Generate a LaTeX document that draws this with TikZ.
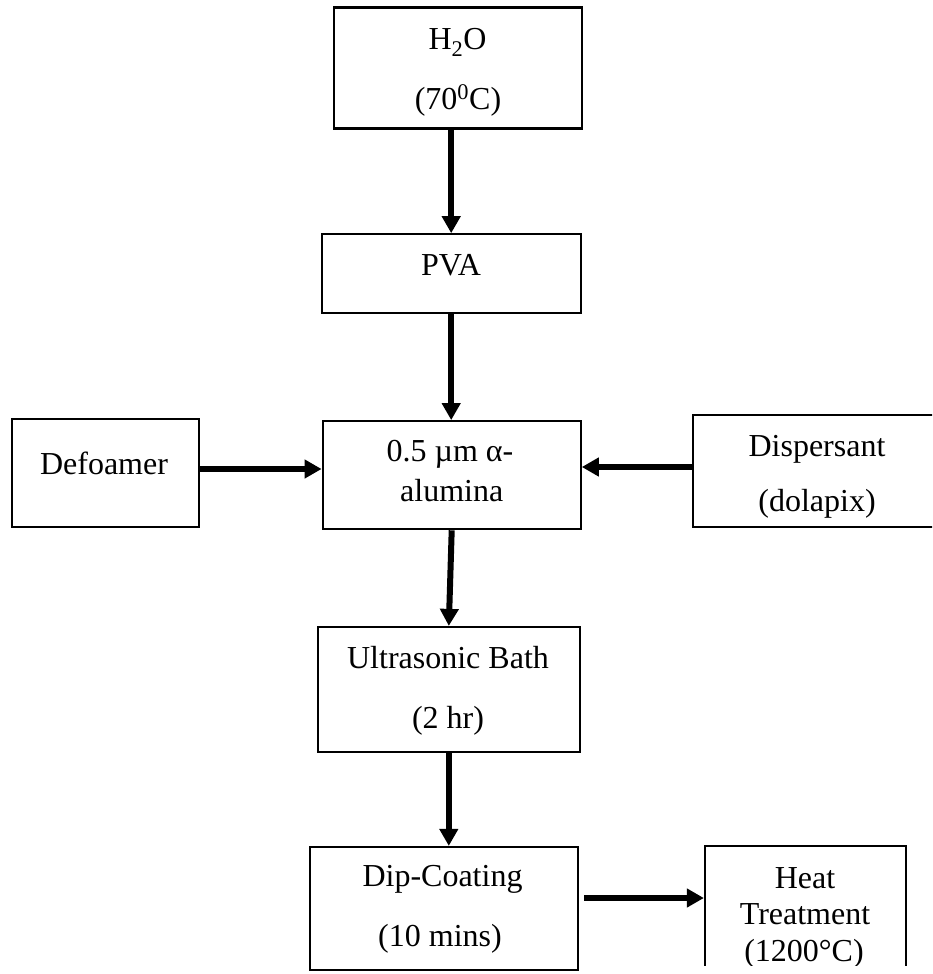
\documentclass[tikz,border=0pt]{standalone}
\usepackage{fontspec}
\setmainfont{Liberation Serif}
\usetikzlibrary{arrows.meta}

\begin{document}
\begin{tikzpicture}[x=1pt,y=-1pt,
  box/.style={draw=black,line width=2.2pt,rectangle,inner sep=0pt,fill=white},
  txt/.style={inner sep=0pt,anchor=base,font=\fontsize{32}{37}\selectfont},
  arr/.style={line width=6pt,-{Triangle[width=18pt,length=17pt]}}]

\clip (0,0) rectangle (932,974);
\fill[white] (0,0) rectangle (932,974);

% process boxes
\node[box,minimum width=248pt,minimum height=121pt] (h2o) at (458,68) {};
\node[box,minimum width=259pt,minimum height=79pt]  (pva) at (451.2,273.8) {};
\node[box,minimum width=187pt,minimum height=108pt] (def) at (105.3,473) {};
\node[box,minimum width=258pt,minimum height=108pt] (alu) at (451.7,475.2) {};
\node[box,minimum width=248pt,minimum height=112pt] (dis) at (817,471) {};
\node[box,minimum width=262pt,minimum height=125pt] (ult) at (448.8,689.5) {};
\node[box,minimum width=268pt,minimum height=123pt] (dip) at (444,908.5) {};

% box texts
\node[txt] (t1a) at (457.5,50) {H\textsubscript{2}O};
\node[txt] (t1b) at (458,109) {(70\textsuperscript{0}C)};
\node[txt] (t2)  at (451,275) {PVA};
\node[txt] (t3)  at (104,474) {Defoamer};
\node[txt] (t4a) at (450,461) {0.5 µm α-};
\node[txt] (t4b) at (451.7,501) {alumina};
\node[txt] (t5a) at (817,456) {Dispersant};
\node[txt] (t5b) at (817,511) {(dolapix)};
\node[txt] (t6a) at (448,668) {Ultrasonic Bath};
\node[txt] (t6b) at (448,728) {(2 hr)};
\node[txt] (t7a) at (442.5,886) {Dip-Coating};
\node[txt] (t7b) at (440,946) {(10 mins)};

% last step: its frame runs off the bottom and is cut
\begin{scope}
  \clip (690,830) rectangle (932,965);
  \node[box,minimum width=201pt,minimum height=160pt] (heat) at (805.5,926) {};
  \node[txt] (t8a) at (805,888) {Heat};
  \node[txt] (t8b) at (805,924) {Treatment};
  \node[txt] (t8c) at (804,961) {(1200°C)};
\end{scope}

% flow arrows
\draw[arr] (h2o.south -| pva.north) -- (pva.north);
\draw[arr] (pva.south) -- (pva.south |- alu.north);
\coordinate (defR) at ([yshift=4pt]def.east);
\draw[arr] (defR) -- (defR -| alu.west);
\coordinate (disL) at ([yshift=4pt]dis.west);
\draw[arr] (disL) -- (disL -| alu.east);
\draw[arr] (alu.south) -- (ult.north);
\draw[arr] (ult.south) -- (ult.south |- dip.north);
\coordinate (dipR) at ([xshift=5pt,yshift=10.5pt]dip.east);
\draw[arr] (dipR) -- (dipR -| heat.west);

\end{tikzpicture}
\end{document}
